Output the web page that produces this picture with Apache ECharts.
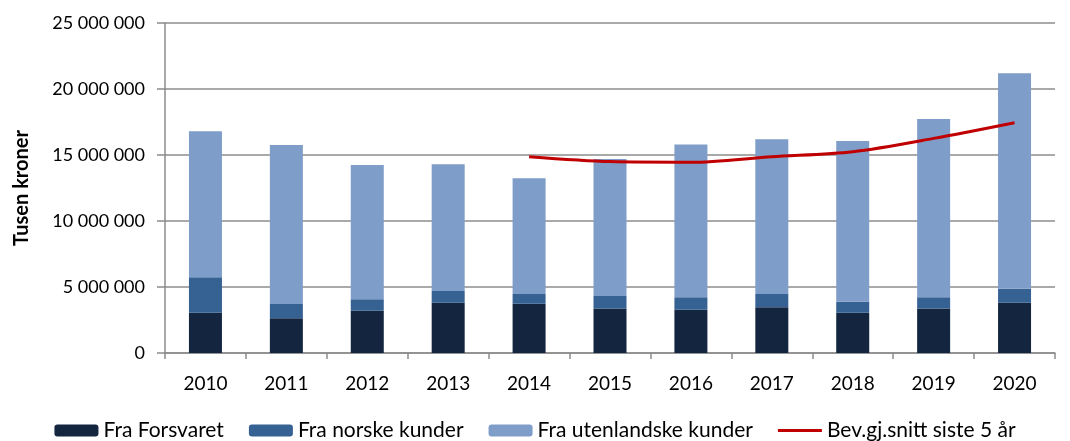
<!DOCTYPE html>
<html>
<head>
<meta charset="utf-8">
<script src="https://cdn.jsdelivr.net/npm/echarts@6/dist/echarts.min.js"></script>
<style>
  html, body { margin: 0; padding: 0; background: #fff; }
  #chart { width: 1070px; height: 441px; }
</style>
</head>
<body>
<div id="chart"></div>
<script>
// years on the x axis
var years = ['2010', '2011', '2012', '2013', '2014', '2015', '2016', '2017', '2018', '2019', '2020']
// tusen kroner
var fraForsvaret = [3050000, 2630000, 3200000, 3810000, 3740000, 3380000, 3280000, 3460000, 3050000, 3380000, 3810000]
var fraNorske = [2680000, 1080000, 870000, 890000, 730000, 940000, 940000, 1010000, 840000, 840000, 1060000]
var fraUtenlandske = [11070000, 12050000, 10170000, 9600000, 8770000, 10380000, 11580000, 11730000, 12170000, 13510000, 16330000]
// moving average, only from 2014
var bevSnitt = [null, null, null, null, 14870000, 14500000, 14450000, 14870000, 15250000, 16260000, 17450000]

var font = 'Lato'

function fmt(v) {
  return String(v).replace(/\B(?=(\d{3})+(?!\d))/g, ' ')
}

// thin line icon; the outer moveTo points keep the 44x12 box
var lineIcon = 'path://M0,0 M0,4.5 L44,4.5 L44,7.5 L0,7.5 Z M44,12'

var chart = echarts.init(document.getElementById('chart'))
chart.setOption({
  animation: false,
  textStyle: { fontFamily: font },
  grid: { left: 165, right: 15, top: 23, bottom: 88 },
  legend: {
    top: 420,
    left: 'center',
    padding: 0,
    itemWidth: 44,
    itemHeight: 12,
    itemGap: 25,
    textStyle: { fontSize: 21, color: '#000', fontFamily: font },
    data: [
      'Fra Forsvaret',
      'Fra norske kunder',
      'Fra utenlandske kunder',
      { name: 'Bev.gj.snitt siste 5 år', icon: lineIcon, itemStyle: { color: '#c00000', borderWidth: 0 } }
    ]
  },
  xAxis: {
    type: 'category',
    data: years,
    axisLine: { lineStyle: { color: '#8c8c8c', width: 1.5 } },
    axisTick: { show: true, length: 6, lineStyle: { color: '#8c8c8c', width: 1.5 } },
    axisLabel: { color: '#000', fontSize: 19, margin: 21 }
  },
  yAxis: {
    type: 'value',
    min: 0,
    max: 25000000,
    interval: 5000000,
    name: 'Tusen kroner',
    nameLocation: 'middle',
    nameGap: 133,
    nameTextStyle: { fontSize: 20, fontWeight: 'bold', color: '#000' },
    axisLine: { show: true, lineStyle: { color: '#8c8c8c', width: 1.5 } },
    axisTick: { show: true, length: 8, lineStyle: { color: '#8c8c8c', width: 1.5 } },
    splitLine: { lineStyle: { color: '#8c8c8c', width: 1.5 } },
    axisLabel: { color: '#000', fontSize: 18, margin: 20, formatter: fmt }
  },
  series: [
    {
      name: 'Fra Forsvaret',
      type: 'bar',
      stack: 'total',
      barWidth: 33,
      itemStyle: { color: '#13253f' },
      data: fraForsvaret
    },
    {
      name: 'Fra norske kunder',
      type: 'bar',
      stack: 'total',
      itemStyle: { color: '#366193' },
      data: fraNorske
    },
    {
      name: 'Fra utenlandske kunder',
      type: 'bar',
      stack: 'total',
      itemStyle: { color: '#7f9dc9' },
      data: fraUtenlandske
    },
    {
      name: 'Bev.gj.snitt siste 5 år',
      type: 'line',
      smooth: 0.3,
      symbol: 'none',
      lineStyle: { color: '#c00000', width: 3 },
      itemStyle: { color: '#c00000' },
      data: bevSnitt
    }
  ]
})
</script>
</body>
</html>
